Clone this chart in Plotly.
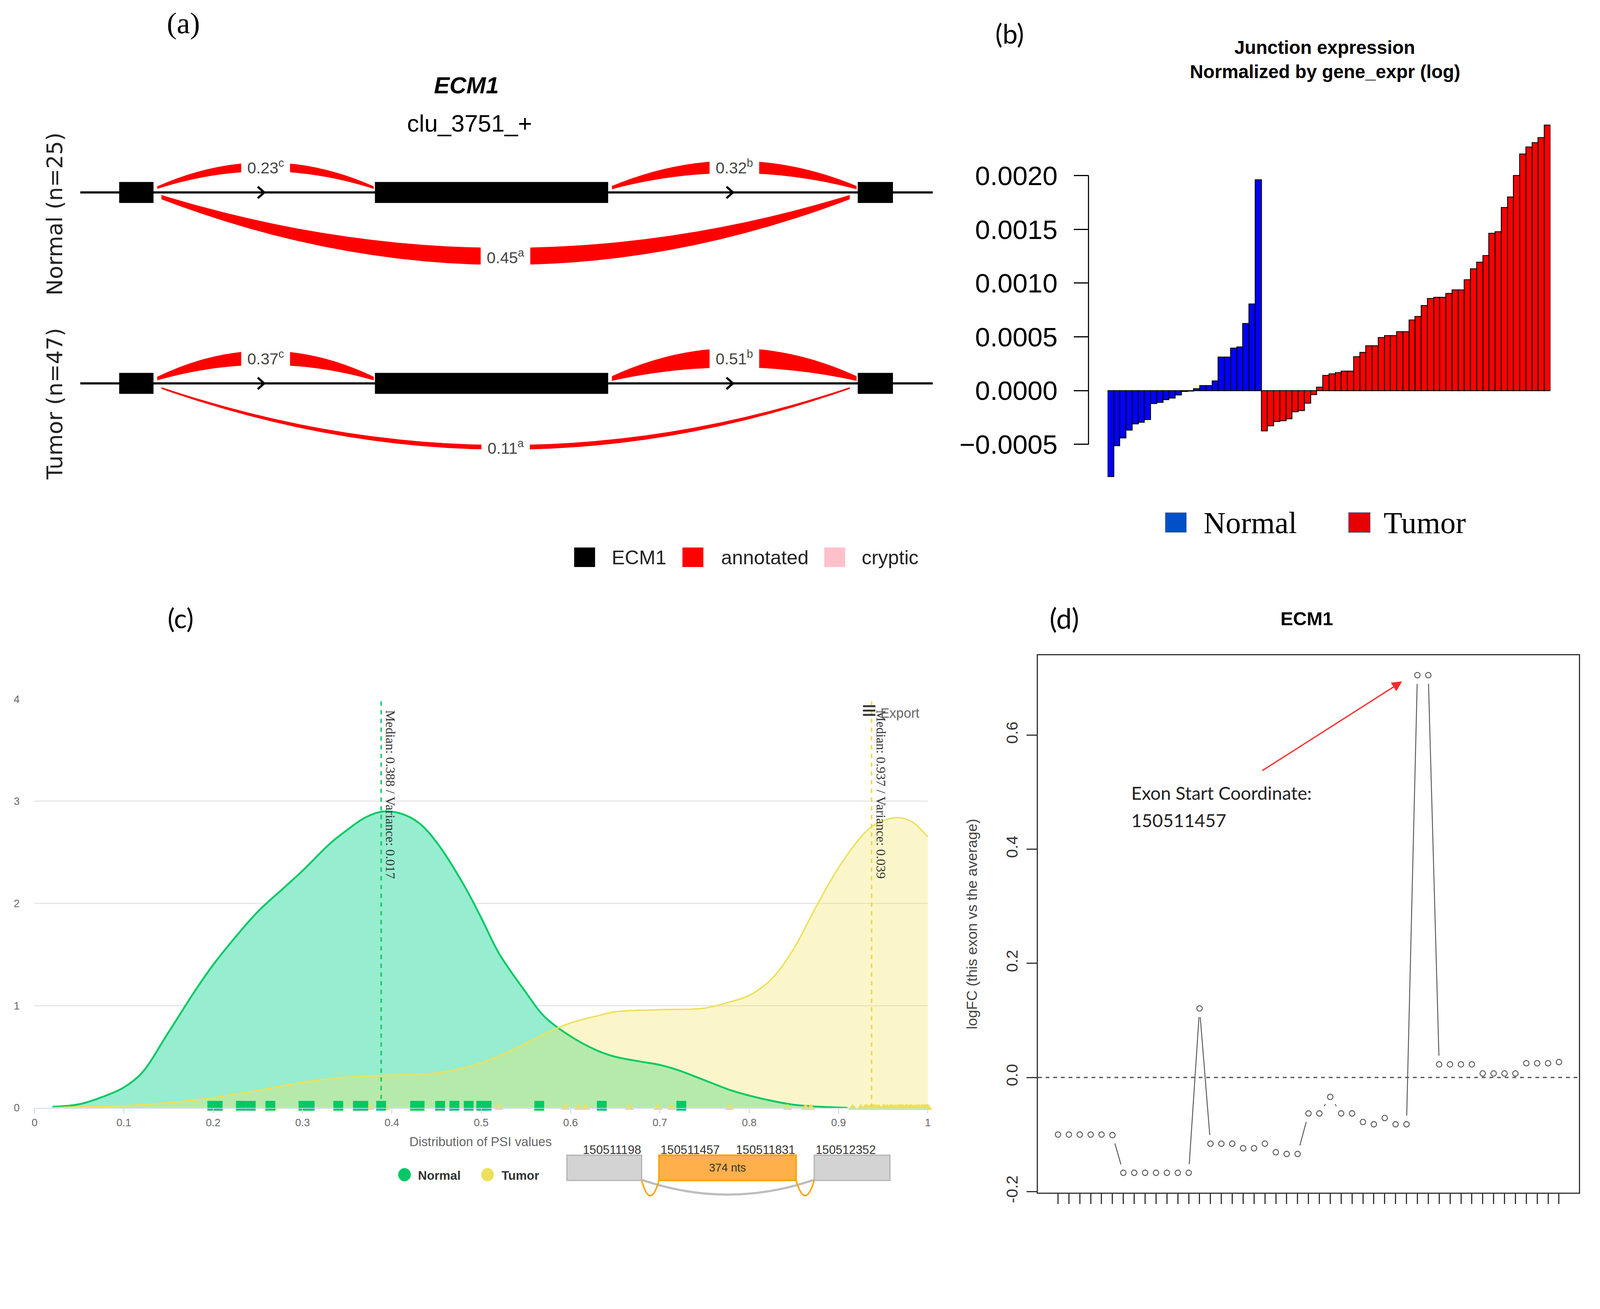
import math
import plotly.graph_objects as go

# reference canvas (photo pixels) and the browser's effective css scale
W, H = 4416, 3352
SX, SY = 1.078, 1.066
OX, OY = 3, 10
WC = int(W / SX) - 16
HC = int((H - OY) / SY) - 16
def px(x): return ((x - OX) / SX - 8) / WC
def py(y): return 1 - ((y - OY) / SY - 8) / HC
def F(v): return v / 1.072
def I(v): return int(round(v / 1.072))

# ======================= DATA =======================
# (a) leafcutter cluster view
gene_name = "ECM1"
cluster_id = "clu_3751_+"
exon_start = [4.42, 34.5, 91.3]
exon_end = [8.41, 61.9, 95.4]
junction_from = [0, 1, 0]
junction_to = [1, 2, 2]
junction_tag = ["c", "b", "a"]
psi_normal = [0.23, 0.32, 0.45]
psi_tumor = [0.37, 0.51, 0.11]
group_labels = ["Normal (n=25)", "Tumor (n=47)"]
legend_a_labels = ["ECM1", "annotated", "cryptic"]
legend_a_colors = ["#000000", "#FF0000", "#FFC0CB"]

# (b) junction expression normalised by gene expression
normal_expr = [-0.00080, -0.000515, -0.00044, -0.000367, -0.00031, -0.000294, -0.00027,
               -0.000122, -0.00011, -0.000086, -0.00007, -0.00004, -0.00001, -0.000005,
               0.000016, 0.000047, 0.000047, 0.000088, 0.000312, 0.000312, 0.000394,
               0.000404, 0.000623, 0.000806, 0.00196]
tumor_expr = [-0.000376, -0.00033, -0.00029, -0.00028, -0.000263, -0.000198, -0.000188,
              -0.000116, -0.000039, 0.00003, 0.000139, 0.000154, 0.000166, 0.00018, 0.00018,
              0.000314, 0.000355, 0.000416, 0.000416, 0.000492, 0.000512, 0.000512,
              0.000549, 0.000549, 0.000656, 0.000689, 0.000791, 0.000857, 0.000867,
              0.000867, 0.000902, 0.000935, 0.000935, 0.001031, 0.001134, 0.001195,
              0.001257, 0.001462, 0.001476, 0.001703, 0.0018, 0.0020, 0.0022, 0.002265,
              0.002306, 0.002353, 0.00247]
b_tickvals = [-0.0005, 0.0, 0.0005, 0.0010, 0.0015, 0.0020]
b_ticktext = ["\u22120.0005", "0.0000", "0.0005", "0.0010", "0.0015", "0.0020"]
b_title = ["Junction expression", "Normalized by gene_expr (log)"]
b_groups = ["Normal", "Tumor"]

# (c) PSI density
normal_x = [0.02, 0.05, 0.08, 0.10, 0.12, 0.15, 0.18, 0.20, 0.22, 0.25, 0.28, 0.30, 0.33,
            0.35, 0.37, 0.39, 0.41, 0.43, 0.45, 0.48, 0.50, 0.52, 0.55, 0.57, 0.60, 0.63,
            0.65, 0.68, 0.70, 0.72, 0.75, 0.78, 0.80, 0.83, 0.85, 0.88, 0.91]
normal_dens = [0.01, 0.035, 0.12, 0.20, 0.34, 0.74, 1.15, 1.40, 1.62, 1.92, 2.16, 2.32, 2.58,
               2.72, 2.84, 2.90, 2.88, 2.79, 2.60, 2.19, 1.86, 1.51, 1.13, 0.90, 0.70, 0.56,
               0.50, 0.45, 0.42, 0.37, 0.27, 0.17, 0.12, 0.06, 0.03, 0.01, 0.0]
tumor_x = [0.02, 0.05, 0.10, 0.15, 0.20, 0.25, 0.30, 0.35, 0.40, 0.45, 0.50, 0.55, 0.57,
           0.60, 0.63, 0.65, 0.70, 0.75, 0.78, 0.80, 0.825, 0.85, 0.875, 0.90, 0.925,
           0.937, 0.95, 0.967, 0.982, 1.00]
tumor_dens = [0.0, 0.01, 0.02, 0.05, 0.10, 0.17, 0.25, 0.30, 0.32, 0.34, 0.44, 0.63, 0.72,
              0.83, 0.90, 0.94, 0.96, 0.975, 1.04, 1.10, 1.26, 1.56, 1.97, 2.35, 2.65,
              2.75, 2.81, 2.84, 2.80, 2.65]
normal_psi = [0.199, 0.202, 0.205, 0.231, 0.242, 0.264, 0.301, 0.305, 0.308, 0.340, 0.362,
              0.365, 0.368, 0.388, 0.426, 0.431, 0.454, 0.470, 0.486, 0.500, 0.502, 0.506,
              0.565, 0.635, 0.724]
tumor_psi = [0.267, 0.375, 0.393, 0.520, 0.594, 0.609, 0.617, 0.666, 0.698, 0.713, 0.724,
             0.778, 0.843, 0.863, 0.869, 0.916, 0.925, 0.930, 0.932, 0.936, 0.938, 0.940,
             0.942, 0.945, 0.950, 0.952, 0.955, 0.958, 0.960, 0.963, 0.966, 0.968, 0.970,
             0.972, 0.975, 0.977, 0.980, 0.982, 0.985, 0.988, 0.990, 0.993, 0.995, 0.997,
             0.999, 1.000, 1.000]
median_normal, var_normal = 0.388, 0.017
median_tumor, var_tumor = 0.937, 0.039
c_xticks = [0, 0.1, 0.2, 0.3, 0.4, 0.5, 0.6, 0.7, 0.8, 0.9, 1]
c_xticktext = ["0", "0.1", "0.2", "0.3", "0.4", "0.5", "0.6", "0.7", "0.8", "0.9", "1"]
c_yticks = [0, 1, 2, 3, 4]
exon_coord_labels = ["150511198", "150511457", "150511831", "150512352"]
exon_len_label = "374 nts"

# (d) exon logFC
logfc = [-0.100, -0.100, -0.100, -0.100, -0.100, -0.101,
         -0.167, -0.167, -0.167, -0.167, -0.167, -0.167, -0.167,
         0.121,
         -0.116, -0.116, -0.116, -0.124, -0.124, -0.116, -0.131, -0.134, -0.134,
         -0.063, -0.063, -0.034, -0.063, -0.063, -0.078, -0.082, -0.071, -0.082, -0.082,
         0.705, 0.705,
         0.023, 0.023, 0.023, 0.023, 0.007, 0.007, 0.007, 0.007,
         0.025, 0.025, 0.025, 0.027]
d_yticks = [-0.2, 0.0, 0.2, 0.4, 0.6]
d_yticktext = ["-0.2", "0.0", "0.2", "0.4", "0.6"]
d_note = ["Exon Start Coordinate:", "150511457"]

# ======================= FIGURE =======================
fig = go.Figure()
shapes, annotations = [], []

def ann(text, x, y, size, color="#000000", family="Liberation Sans",
        xanchor="center", yanchor="middle", **kw):
    d = dict(text=text, x=px(x), y=py(y), xref="paper", yref="paper", showarrow=False,
             font=dict(size=F(size), color=color, family=family),
             xanchor=xanchor, yanchor=yanchor)
    d.update(kw)
    annotations.append(d)

def rect_px(x0, y0, x1, y1, fill, line_color=None, lw=0):
    shapes.append(dict(type="rect", xref="paper", yref="paper",
                       x0=px(x0), x1=px(x1), y0=py(y1), y1=py(y0),
                       fillcolor=fill, line=dict(color=line_color or fill, width=F(lw))))

# panel labels
ann("(a)", 502, 58, 82, family="Liberation Serif")
ann("(b)", 2792, 86, 74, family="Lato")
ann("(c)", 495, 1703, 74, family="Lato")
ann("(d)", 2943, 1703, 76, family="Lato")

# ---------------- (a) ----------------
fig.add_trace(go.Scatter(x=[None], y=[None], xaxis="x", yaxis="y", showlegend=False))
row_y = [1, 0]
for rowy, psis in zip(row_y, [psi_normal, psi_tumor]):
    shapes.append(dict(type="line", xref="x", yref="y",
                       x0=exon_start[0] - 4.6, x1=exon_end[-1] + 4.7, y0=rowy, y1=rowy,
                       line=dict(color="black", width=F(6))))
    for f, t, tag, p in zip(junction_from, junction_to, junction_tag, psis):
        top = (t - f) == 1
        if top:
            x0, x1 = exon_end[f] + 0.5, exon_start[t] - 0.2
            base, h, s = rowy + 0.026, 0.108, 1
        else:
            x0, x1 = exon_end[f] + 1.0, exon_start[t] - 1.0
            base, h, s = rowy - 0.025, 0.31, -1
        th = p * 0.17
        e = th * 0.12
        xm = (x0 + x1) / 2
        path = (f"M {x0},{base + s*e} Q {xm},{base + s*(2*h + th)} {x1},{base + s*e} "
                f"L {x1},{base - s*e} Q {xm},{base + s*(2*h - th)} {x0},{base - s*e} Z")
        shapes.append(dict(type="path", xref="x", yref="y", path=path,
                           fillcolor="#FF0000", line=dict(color="#FF0000", width=F(2))))
        annotations.append(dict(text=f"{p:.2f}<sup>{tag}</sup>", x=xm, y=base + s*h,
                                xref="x", yref="y", showarrow=False, bgcolor="white",
                                borderpad=F(16),
                                font=dict(size=F(44), color="#444444", family="Liberation Sans")))
    for s0, e0 in zip(exon_start, exon_end):
        shapes.append(dict(type="rect", xref="x", yref="y", x0=s0, x1=e0,
                           y0=rowy - 0.054, y1=rowy + 0.054,
                           fillcolor="black", line=dict(color="black", width=F(1))))
    for k in range(len(exon_start) - 1):
        xc = (exon_end[k] + exon_start[k + 1]) / 2
        shapes.append(dict(type="path", xref="x", yref="y",
                           path=f"M {xc-0.76},{rowy+0.03} L {xc},{rowy} L {xc-0.76},{rowy-0.03}",
                           line=dict(color="black", width=F(6))))

ann(f"<b><i>{gene_name}</i></b>", 1286, 230, 64)
ann(cluster_id, 1295, 335, 66)
ann(group_labels[0], 145, 585, 60, color="#222222", family="DejaVu Sans", textangle=-90)
ann(group_labels[1], 145, 1111, 60, color="#222222", family="DejaVu Sans", textangle=-90)
for lab, col, sx, tx in zip(legend_a_labels, legend_a_colors, [1585, 1885, 2278], [1687, 1990, 2380]):
    rect_px(sx, 1508, sx + 58, 1562, col)
    ann(lab, tx, 1536, 54, color="#222222", xanchor="left")

# ---------------- (b) ----------------
n_n = len(normal_expr)
fig.add_trace(go.Bar(x=list(range(1, n_n + 1)), y=normal_expr, xaxis="x2", yaxis="y2",
                     marker=dict(color="#0000FF", line=dict(color="black", width=F(2.5))),
                     showlegend=False))
fig.add_trace(go.Bar(x=list(range(n_n + 1, n_n + len(tumor_expr) + 1)), y=tumor_expr,
                     xaxis="x2", yaxis="y2",
                     marker=dict(color="#FF0000", line=dict(color="black", width=F(2.5))),
                     showlegend=False))
shapes.append(dict(type="line", xref="paper", yref="y2", x0=px(3010), x1=px(3010),
                   y0=b_tickvals[0], y1=b_tickvals[-1], line=dict(color="black", width=F(3))))
ann(f"<b>{b_title[0]}</b>", 3665, 125, 51)
ann(f"<b>{b_title[1]}</b>", 3665, 192, 51)
rect_px(3223, 1412, 3281, 1466, "#0050C8", "#2a3a7a", 1)
ann(b_groups[0], 3327, 1440, 84, family="Liberation Serif", xanchor="left")
rect_px(3731, 1412, 3790, 1466, "#E80000", "#5a4a8a", 2)
ann(b_groups[1], 3825, 1440, 84, family="Liberation Serif", xanchor="left")

# ---------------- (c) ----------------
fig.add_trace(go.Scatter(x=normal_x, y=normal_dens, xaxis="x3", yaxis="y3", mode="lines",
                         line=dict(color="rgba(0,0,0,0)", width=0, shape="spline"),
                         fill="tozeroy", fillcolor="#97EDCF", showlegend=False))
fig.add_trace(go.Scatter(x=tumor_x, y=tumor_dens, xaxis="x3", yaxis="y3", mode="lines",
                         line=dict(color="rgba(0,0,0,0)", width=0, shape="spline"),
                         fill="tozeroy", fillcolor="rgba(243,228,99,0.34)", showlegend=False))
fig.add_trace(go.Scatter(x=normal_x, y=normal_dens, xaxis="x3", yaxis="y3", mode="lines",
                         line=dict(color="#00C864", width=F(5), shape="spline"), showlegend=False))
fig.add_trace(go.Scatter(x=tumor_x, y=tumor_dens, xaxis="x3", yaxis="y3", mode="lines",
                         line=dict(color="#EDE05A", width=F(4), shape="spline"), showlegend=False))
fig.add_trace(go.Scatter(x=tumor_psi, y=[0] * len(tumor_psi), xaxis="x3", yaxis="y3",
                         mode="markers", cliponaxis=False,
                         marker=dict(symbol="triangle-up", size=F(22), color="#EDE05A"),
                         showlegend=False))
fig.add_trace(go.Scatter(x=normal_psi, y=[0.02] * len(normal_psi), xaxis="x3", yaxis="y3",
                         mode="markers", cliponaxis=False,
                         marker=dict(symbol="square", size=F(27), color="#00C864"),
                         showlegend=False))
for med, var, col in [(median_normal, var_normal, "#12C46A"), (median_tumor, var_tumor, "#E8D848")]:
    shapes.append(dict(type="line", xref="x3", yref="y3", x0=med, x1=med, y0=0, y1=4,
                       line=dict(color=col, width=F(4), dash="dash")))
    annotations.append(dict(text=f"Median: {med} / Variance: {var}", x=med, y=3.9,
                            xref="x3", yref="y3", showarrow=False, textangle=90,
                            xanchor="left", yanchor="top", xshift=F(4),
                            font=dict(size=F(36), color="#333333", family="Liberation Serif")))
ann("\u2261", 2402, 1958, 70, color="#333333")
ann("Export", 2432, 1966, 37, color="#666666", xanchor="left")
ann("Distribution of PSI values", 1325, 3152, 35, color="#666666")
# legend (c)
for cx, col, lab, tx in [(1115, "#00C864", "Normal", 1150), (1345, "#EDE05A", "Tumor", 1382)]:
    shapes.append(dict(type="circle", xref="paper", yref="paper",
                       x0=px(cx - 17), x1=px(cx + 17), y0=py(3243 + 18), y1=py(3243 - 18),
                       fillcolor=col, line=dict(color=col, width=F(1))))
    ann(f"<b>{lab}</b>", tx, 3245, 34, color="#333333", xanchor="left")
# exon diagram
def path_px(pts):
    return " ".join(f"{c} {px(x)},{py(y)}" for c, (x, y) in pts)
shapes.append(dict(type="path", xref="paper", yref="paper",
                   path=path_px([("M", (1772, 3257)), ("Q", (2011, 3339)), ("", (2250, 3257))]),
                   line=dict(color="#BDBDBD", width=F(6))))
rect_px(1565, 3189, 1772, 3259, "#D3D3D3", "#B0B0B0", 3)
rect_px(1820, 3189, 2200, 3259, "#FFB04A", "#FFA000", 4)
rect_px(2250, 3189, 2460, 3259, "#D3D3D3", "#B0B0B0", 3)
for xa, xb in [(1772, 1820), (2200, 2250)]:
    shapes.append(dict(type="path", xref="paper", yref="paper",
                       path=path_px([("M", (xa, 3259)), ("Q", ((xa + xb) / 2, 3343)), ("", (xb, 3259))]),
                       line=dict(color="#FFA000", width=F(4))))
ann(exon_coord_labels[0], 1772, 3174, 33, color="#333333", xanchor="right")
ann(exon_coord_labels[1], 1822, 3174, 33, color="#333333", xanchor="left")
ann(exon_coord_labels[2], 2200, 3174, 33, color="#333333", xanchor="right")
ann(exon_coord_labels[3], 2252, 3174, 33, color="#333333", xanchor="left")
ann(exon_len_label, 2010, 3224, 31, color="#333333")

# ---------------- (d) ----------------
d_x = list(range(1, len(logfc) + 1))
d_xr = [-0.84, len(logfc) + 1.84]
d_yr = [-0.202, 0.740]
ppx = (4369 - 2870) / (d_xr[1] - d_xr[0])
ppy = (3293 - 1806) / (d_yr[1] - d_yr[0])
gap = 24
seg_x, seg_y = [], []
for i in range(len(logfc) - 1):
    x0, y0, x1, y1 = d_x[i], logfc[i], d_x[i + 1], logfc[i + 1]
    L = math.hypot((x1 - x0) * ppx, (y1 - y0) * ppy)
    if L > 2 * gap + 2:
        f = gap / L
        seg_x += [x0 + (x1 - x0) * f, x1 - (x1 - x0) * f, None]
        seg_y += [y0 + (y1 - y0) * f, y1 - (y1 - y0) * f, None]
fig.add_trace(go.Scatter(x=seg_x, y=seg_y, xaxis="x4", yaxis="y4", mode="lines",
                         line=dict(color="#555555", width=F(2.5)), showlegend=False))
fig.add_trace(go.Scatter(x=d_x, y=logfc, xaxis="x4", yaxis="y4", mode="markers",
                         marker=dict(symbol="circle-open", size=F(15), color="#555555",
                                     line=dict(width=F(2.5))), showlegend=False))
shapes.append(dict(type="line", xref="x4 domain", yref="y4", x0=0, x1=1, y0=0, y1=0,
                   line=dict(color="#555555", width=F(3.5), dash="dash")))
annotations.append(dict(x=32.6, y=0.694, ax=19.7, ay=0.537, xref="x4", yref="y4",
                        axref="x4", ayref="y4", text="", showarrow=True, arrowhead=2,
                        arrowsize=1.6, arrowwidth=F(3.5), arrowcolor="#FF2A2A"))
annotations.append(dict(x=7.65, y=0.499, xref="x4", yref="y4", text=d_note[0],
                        showarrow=False, xanchor="left", yanchor="middle",
                        font=dict(size=F(50), color="#222222", family="Lato")))
annotations.append(dict(x=7.65, y=0.451, xref="x4", yref="y4", text=d_note[1],
                        showarrow=False, xanchor="left", yanchor="middle",
                        font=dict(size=F(50), color="#222222", family="Lato")))
ann(f"<b>{gene_name}</b>", 3615, 1705, 52)
ann("logFC (this exon vs the average)", 2686, 2550, 40, color="#444444", textangle=-90)

# ======================= LAYOUT =======================
hidden = dict(visible=False, showgrid=False, zeroline=False)
fig.update_layout(
    width=WC, height=HC, margin=dict(l=0, r=0, t=0, b=0),
    paper_bgcolor="white", plot_bgcolor="white",
    font=dict(family="Liberation Sans"),
    showlegend=False, barmode="overlay", bargap=0,
    xaxis=dict(hidden, domain=[px(150), px(2650)], range=[-3.015, 103.14], anchor="y"),
    yaxis=dict(hidden, domain=[py(1400), py(300)], range=[-0.655, 1.428], anchor="x"),
    xaxis2=dict(hidden, domain=[px(3063), px(4290)], range=[0.5, 72.5], anchor="y2"),
    yaxis2=dict(domain=[py(1330), py(300)], range=[-0.000861, 0.002604], anchor="free",
                position=px(3010), showline=False, showgrid=False, zeroline=False,
                ticks="outside", ticklen=F(40), tickwidth=F(3), tickcolor="black",
                tickvals=b_tickvals, ticktext=b_ticktext, ticklabelstandoff=I(30),
                tickfont=dict(size=F(74), color="black", family="Liberation Sans")),
    xaxis3=dict(domain=[px(90), px(2565)], range=[0, 1], anchor="y3",
                tickvals=c_xticks, ticktext=c_xticktext, ticks="outside", ticklen=F(14),
                tickwidth=F(2), tickcolor="#CCD6EB", showline=True, linecolor="#CCD6EB",
                linewidth=F(2), showgrid=False, zeroline=False,
                tickfont=dict(size=F(29), color="#666666")),
    yaxis3=dict(domain=[py(3058), py(1927.5)], range=[0, 4], anchor="x3",
                tickvals=c_yticks, showgrid=True, gridcolor="#E6E6E6", gridwidth=F(3),
                zeroline=False, showline=False, ticks="", ticklabelstandoff=I(40),
                tickfont=dict(size=F(29), color="#666666")),
    xaxis4=dict(domain=[px(2870), px(4369)], range=d_xr, anchor="y4",
                tickvals=d_x, showticklabels=False, ticks="outside", ticklen=F(28),
                tickwidth=F(3), tickcolor="#333333", showline=True, mirror=True,
                linecolor="#333333", linewidth=F(3), showgrid=False, zeroline=False),
    yaxis4=dict(domain=[py(3293), py(1806)], range=d_yr, anchor="x4",
                tickvals=d_yticks, ticktext=d_yticktext, tickangle=-90,
                ticks="outside", ticklen=F(28), tickwidth=F(3), tickcolor="#333333",
                showline=True, mirror=True, linecolor="#333333", linewidth=F(3),
                showgrid=False, zeroline=False, ticklabelstandoff=I(8),
                tickfont=dict(size=F(44), color="#333333")),
    shapes=shapes, annotations=annotations,
)
fig.write_html("out.html")
